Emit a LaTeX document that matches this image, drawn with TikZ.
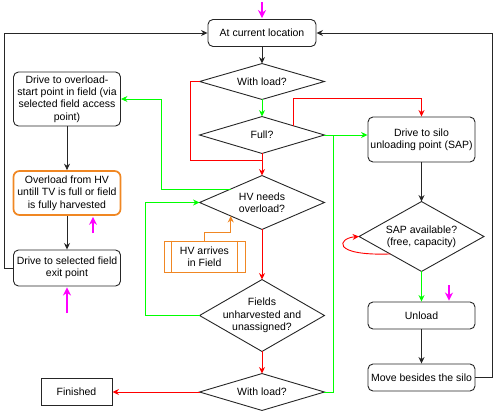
\documentclass[tikz,border=0pt]{standalone}
\usepackage{xcolor}
\usepackage{fontspec}
\setmainfont{Liberation Sans}
\usepackage{tikz}
\usetikzlibrary{arrows.meta,calc}

\definecolor{yesgreen}{RGB}{0,255,0}
\definecolor{nored}{RGB}{255,0,0}
\definecolor{hvorange}{RGB}{240,135,35}
\definecolor{hintpink}{RGB}{255,0,255}

\begin{document}
\begin{tikzpicture}[
            x = 1pt, y = -1pt, line width = 0.9pt,
            every node/.append style = {font = \fontsize{10.5}{12.4}\selectfont, align = center, inner sep = 1pt},
            stepbox/.style = {draw = black!85, rounded corners = 5pt, minimum width = 107pt},
            query/.style = {minimum width = 124pt},
            flow/.style = {black!85, -{Stealth[length = 6.5pt, width = 6pt]}},
            yesarrow/.style = {flow, yesgreen},
            noarrow/.style = {flow, nored},
            yesline/.style = {yesgreen},
            noline/.style = {nored},
            cue/.style = {flow, hvorange},
            hint/.style = {hintpink, line width = 2pt, shorten > = 1pt, -{Stealth[length = 8pt, width = 8pt]}}]
            \useasboundingbox (0,0) rectangle (500,415);

            \node[stepbox, minimum width = 108pt, minimum height = 27pt] (start) at (262,33) {At current location};
            \node[query, minimum height = 35pt] (load1) at (262,81.5) {With load?};
            \node[query, minimum height = 36pt] (full) at (262,135) {Full?};
            \node[query, minimum height = 53pt] (hv) at (262,202.5) {HV needs\\overload?};
            \node[query, minimum height = 71pt] (fields) at (262,315.5) {Fields\\unharvested and\\unassigned?};
            \node[query, minimum height = 36pt] (load2) at (262,392) {With load?};

            \node[stepbox, minimum height = 54pt] (drive) at (67,99) {Drive to overload-\\start point in field (via\\selected field access\\point)};
            \node[stepbox, draw = hvorange, line width = 1.7pt, rounded corners = 6pt, minimum height = 44pt] (overload) at (67,193) {Overload from HV\\untill TV is full or field\\is fully harvested};
            \node[stepbox, minimum height = 36pt] (exit) at (67,268) {Drive to selected field\\exit point};
            \node[draw = black!85, minimum width = 71pt, minimum height = 27pt] (finished) at (76.5,392) {Finished};
            \node[draw = hvorange, minimum width = 81pt, minimum height = 31pt] (arrives) at (204.5,256.5) {HV arrives\\in Field};
            \draw[hvorange] ($(arrives.north west)+(8,0)$) -- ($(arrives.south west)+(8,0)$);
            \draw[hvorange] ($(arrives.north east)+(-8,0)$) -- ($(arrives.south east)+(-8,0)$);

            \node[stepbox, minimum height = 45pt] (silo) at (421.5,139.5) {Drive to silo\\unloading point (SAP)};
            \node[query, minimum height = 69pt] (sap) at (421.5,236.5) {SAP available?\\(free, capacity)};
            \node[stepbox, minimum height = 27pt] (unload) at (421.5,315.5) {Unload};
            \node[stepbox, minimum height = 27pt] (move) at (421.5,377.5) {Move besides the silo};

            \foreach \q in {load1, full, hv, fields, load2, sap}
                \draw[black!85] (\q.north) -- (\q.east) -- (\q.south) -- (\q.west) -- cycle;

            \draw[flow] (start.south) -- (load1.north);
            \draw[yesarrow] (load1.south) -- (full.north);
            \draw[noline] (load1.west) -- ++(-9,0) |- ($(hv.north)+(0,-15)$);
            \draw[noarrow] (full.south) -- (hv.north);
            \draw[noarrow] ($(full.north)!0.5!(full.east)$) |- ($(silo.north)+(0,-18)$) -- (silo.north);
            \draw[yesarrow] (full.east) -- (full.east -| silo.west);
            \draw[yesline] (load2.east) -| ($(full.east)+(9,0)$);
            \draw[yesarrow] ($(hv.west)!0.5!(hv.north)$) -| ($(drive.east)+(40,0)$) -- (drive.east);
            \draw[noarrow] (hv.south) -- (fields.north);
            \draw[yesarrow] (fields.west) -- ++(-54,0) |- (hv.west);
            \draw[noarrow] (fields.south) -- (load2.north);
            \draw[noarrow] (load2.west) -- (finished.east);
            \draw[cue] (arrives.north) -- ++(0,-8) -| ($(hv.west)!0.5!(hv.south)$);

            \draw[flow] (drive.south) -- (overload.north);
            \draw[flow] (overload.south) -- (exit.north);
            \draw[flow] (exit.west) -- ++(-9,0) |- (start.west);

            \draw[flow] (silo.south) -- (sap.north);
            \draw[noarrow] ($(sap.west)!0.5!(sap.south)$) .. controls (330,256) and (338,238) .. (sap.west);
            \draw[yesarrow] (sap.south) -- (unload.north);
            \draw[flow] (unload.south) -- (move.north);
            \draw[flow] (move.east) -- ++(17,0) |- (start.east);

            \coordinate (tip1) at (262,2);
            \coordinate (tip2) at (93,233);
            \coordinate (tip3) at (67,313);
            \coordinate (tip4) at (449,285);
            \draw[hint] (tip1) -- (start.north);
            \draw[hint] (tip2) -- (tip2 |- overload.south);
            \draw[hint] (tip3) -- (exit.south);
            \draw[hint] (tip4) -- (tip4 |- unload.north);
        \end{tikzpicture}
\end{document}
